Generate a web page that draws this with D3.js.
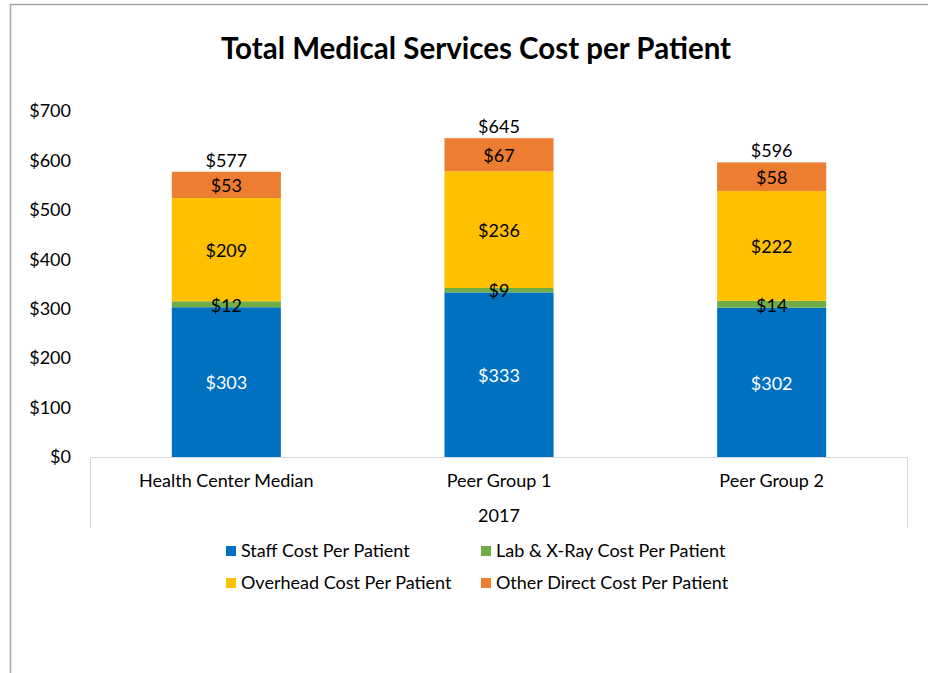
<!DOCTYPE html>
<html>
<head>
<meta charset="utf-8">
<script src="https://cdn.jsdelivr.net/npm/d3@7"></script>
<style>
  body { margin: 0; background: #fff; }
  text { font-family: Lato, "Open Sans", sans-serif; fill: #000; }
</style>
</head>
<body>
<svg id="chart" width="928" height="673"></svg>
<script>
const categories = ['Health Center Median', 'Peer Group 1', 'Peer Group 2'];
const seriesNames = ['Staff Cost Per Patient', 'Lab & X-Ray Cost Per Patient', 'Overhead Cost Per Patient', 'Other Direct Cost Per Patient'];
const staff = [303, 333, 302];
const labXray = [12, 9, 14];
const overhead = [209, 236, 222];
const otherDirect = [53, 67, 58];
const totals = [577, 645, 596];
const yTicks = [0, 100, 200, 300, 400, 500, 600, 700];
const groupLabel = '2017';

const colors = ['#0070C0', '#70AD47', '#FFC000', '#ED7D31'];
const labelColors = ['#fff', '#000', '#000', '#000'];
const fs = 18;

const svg = d3.select('#chart');

// outer frame (only top and left edges visible)
svg.append('line').attr('x1', 10).attr('x2', 928).attr('y1', 4.5).attr('y2', 4.5)
    .attr('stroke', '#a6a6a6').attr('stroke-width', 1.5);
svg.append('line').attr('x1', 10.5).attr('x2', 10.5).attr('y1', 4).attr('y2', 673)
    .attr('stroke', '#a6a6a6').attr('stroke-width', 1.5);

svg.append('text')
    .attr('x', 476).attr('y', 59)
    .attr('text-anchor', 'middle')
    .attr('font-size', 29.5).attr('font-weight', 'bold')
    .text('Total Medical Services Cost per Patient');

const plotLeft = 90, plotRight = 908, plotTop = 111, plotBottom = 457;

const x = d3.scaleBand().domain(categories).range([plotLeft, plotRight]).paddingInner(0).paddingOuter(0);
const y = d3.scaleLinear().domain([0, 700]).range([plotBottom, plotTop]);

// y axis labels (no line, no ticks)
const yAxis = svg.append('g')
    .attr('transform', `translate(${plotLeft},0)`)
    .call(d3.axisLeft(y).tickValues(yTicks).tickFormat(d => '$' + d).tickSize(0).tickPadding(19));
yAxis.select('.domain').remove();
yAxis.selectAll('text').attr('font-size', fs).attr('font-family', 'Lato, sans-serif');

// category axis box
const boxBottom = 528;
svg.append('path')
    .attr('d', `M${plotLeft + 0.5},${boxBottom}V${plotBottom + 0.5}H${plotRight - 0.5}V${boxBottom}`)
    .attr('fill', 'none').attr('stroke', '#d9d9d9').attr('stroke-width', 1);

svg.selectAll('.cat')
    .data(categories)
    .enter().append('text')
    .attr('class', 'cat')
    .attr('x', d => x(d) + x.bandwidth() / 2)
    .attr('y', 487)
    .attr('text-anchor', 'middle')
    .attr('font-size', fs)
    .text(d => d);

svg.append('text')
    .attr('x', (plotLeft + plotRight) / 2).attr('y', 522)
    .attr('text-anchor', 'middle')
    .attr('font-size', fs)
    .text(groupLabel);

// stacked bars
const rows = categories.map((c, i) => ({
    cat: c, s0: staff[i], s1: labXray[i], s2: overhead[i], s3: otherDirect[i]
}));
const stack = d3.stack().keys(['s0', 's1', 's2', 's3']);
const layers = stack(rows);

const barW = x.bandwidth() * 0.4;
const barX = d => x(d.data.cat) + (x.bandwidth() - barW) / 2;

const layerG = svg.selectAll('.layer')
    .data(layers)
    .enter().append('g')
    .attr('class', 'layer')
    .attr('fill', (d, i) => colors[i]);

layerG.selectAll('rect')
    .data(d => d)
    .enter().append('rect')
    .attr('x', barX)
    .attr('width', barW)
    .attr('y', d => y(d[1]))
    .attr('height', d => y(d[0]) - y(d[1]));

layers.forEach((layer, li) => {
    svg.selectAll('.lbl' + li)
        .data(layer)
        .enter().append('text')
        .attr('x', d => x(d.data.cat) + x.bandwidth() / 2)
        .attr('y', d => (y(d[0]) + y(d[1])) / 2 + 1)
        .attr('dy', '0.35em')
        .attr('text-anchor', 'middle')
        .attr('font-size', fs)
        .style('fill', labelColors[li])
        .text(d => '$' + (d[1] - d[0]));
});

// totals
svg.selectAll('.total')
    .data(categories)
    .enter().append('text')
    .attr('x', d => x(d) + x.bandwidth() / 2)
    .attr('y', (d, i) => y(totals[i]) - 5)
    .attr('text-anchor', 'middle')
    .attr('font-size', fs)
    .text((d, i) => '$' + totals[i]);

// legend
const legendPos = [[226, 551], [481, 551], [226, 583], [481, 583]];
const legend = svg.selectAll('.legend')
    .data(seriesNames)
    .enter().append('g')
    .attr('class', 'legend')
    .attr('transform', (d, i) => `translate(${legendPos[i][0]},${legendPos[i][1]})`);
legend.append('rect')
    .attr('x', 0).attr('y', -5).attr('width', 10).attr('height', 10)
    .attr('fill', (d, i) => colors[i]);
legend.append('text')
    .attr('x', 15).attr('dy', '0.35em')
    .attr('font-size', fs)
    .text(d => d);
</script>
</body>
</html>
